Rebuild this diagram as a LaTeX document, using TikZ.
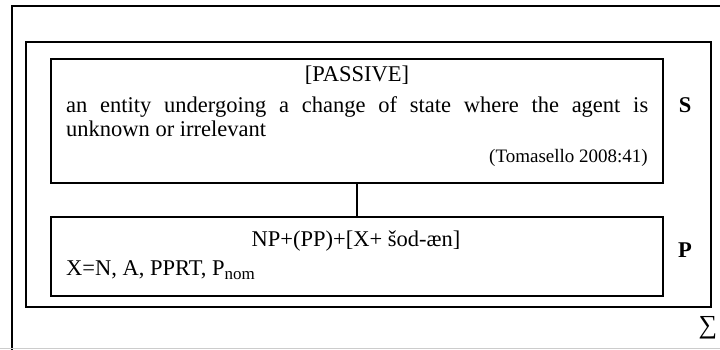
\documentclass[tikz,border=0pt]{standalone}
\usepackage{fontspec}
\setmainfont{Liberation Serif}

\begin{document}
\begin{tikzpicture}[x = 1pt, y = -1pt,
                    every node/.style = {inner sep = 0pt,
                                         font = \fontsize{22.5}{24}\selectfont},
                    box/.style        = {draw,
                                         line width = 1.5pt,
                                         shape      = rectangle},
                    tag/.style        = {font = \fontsize{22.5}{24}\selectfont\bfseries},
                    frame line/.style = {line width = 1.5pt}]
\useasboundingbox (0,0) rectangle (720,350);

% the outer frame, cut by the page on the right
\draw[frame line] (12,350) -- (12,6) -- (722,6);
\draw[black!20, line width = 1pt] (0,348.5) -- (720,348.5);

% the boxes
\node[box, minimum width = 685pt, minimum height = 265pt] (level) at (368.5,174.5) {};
\node[box, minimum width = 612pt, minimum height = 124pt] (sem)   at (357,121) {};
\node[box, minimum width = 612pt, minimum height = 79pt]  (form)  at (357,256.5) {};

% the texts
\node[anchor = base] (title) at (357,82) {[PASSIVE]};
\node[anchor = north west, text width = 582pt, align = justify] (gloss) at (66,96)
  {an entity undergoing a change of state where the agent is\linebreak
   unknown or irrelevant};
\node[anchor = base east, font = \fontsize{19}{21}\selectfont] (cite) at (648,162)
  {(Tomasello 2008:41)};
\node[anchor = base] (pattern) at (356,246) {NP+(PP)+[X+ šod-æn]};
\node[anchor = base west] (slot) at (66,275)
  {X=N, A, PPRT, P\raisebox{-4pt}{\fontsize{17}{17}\selectfont nom}};

\node[tag, anchor = base] (S) at (685,113) {S};
\node[tag, anchor = base] (P) at (685,257) {P};
\node[font = \fontsize{26}{26}\selectfont] (sum) at (708,328) {∑};

% edges
\draw[frame line] (sem.south) -- (form.north);
\end{tikzpicture}
\end{document}
